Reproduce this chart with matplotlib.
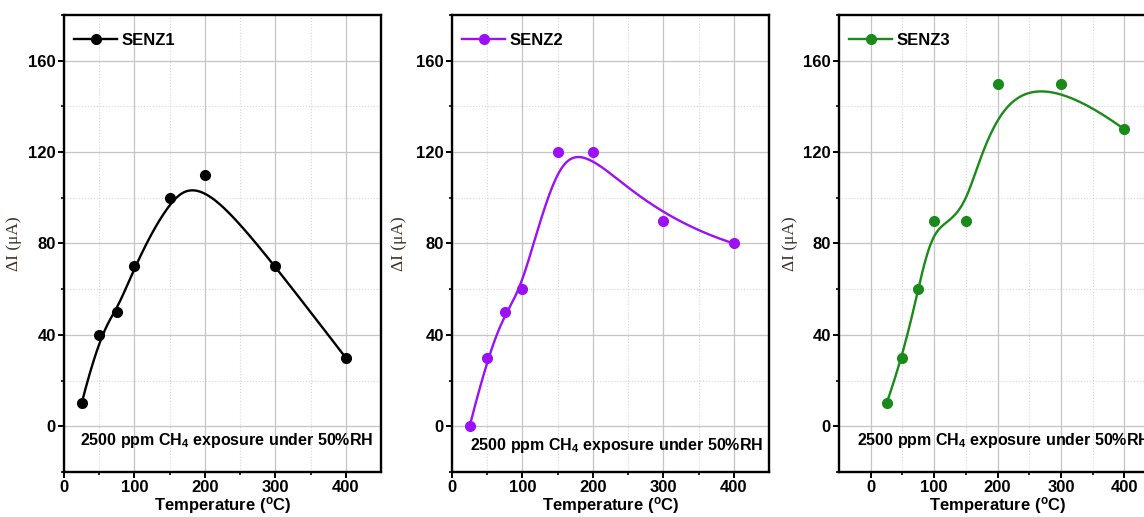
import numpy as np
import matplotlib.pyplot as plt
from matplotlib.lines import Line2D

plt.rcParams["font.family"] = ["Liberation Sans", "DejaVu Sans"]
plt.rcParams["font.weight"] = "bold"
plt.rcParams["mathtext.fontset"] = "custom"
plt.rcParams["mathtext.rm"] = "Liberation Sans:bold"
plt.rcParams["mathtext.it"] = "Liberation Sans:bold"
plt.rcParams["mathtext.bf"] = "Liberation Sans:bold"

temps = [25, 50, 75, 100, 150, 200, 300, 400]
senz1 = [10, 40, 50, 70, 100, 110, 70, 30]
senz2 = [0, 30, 50, 60, 120, 120, 90, 80]
senz3 = [10, 30, 60, 90, 90, 150, 150, 130]
names = ["SENZ1", "SENZ2", "SENZ3"]
colors = ["black", "#9b10f5", "#1a8a1a"]
note = "2500 ppm CH$_4$ exposure under 50%RH"


def bspline(px, py, n=300, k=3):
    # clamped uniform B-spline using the data points as control points
    px = np.asarray(px, float)
    py = np.asarray(py, float)
    m = len(px)
    inner = np.arange(1, m - k)
    knots = np.concatenate([np.zeros(k + 1), inner, np.full(k + 1, m - k)])
    t = np.linspace(0, m - k, n)
    t[-1] -= 1e-9
    B = np.zeros((n, len(knots) - 1))
    for i in range(len(knots) - 1):
        B[:, i] = (t >= knots[i]) & (t < knots[i + 1])
    for d in range(1, k + 1):
        Bn = np.zeros((n, len(knots) - d - 1))
        for i in range(len(knots) - d - 1):
            a = knots[i + d] - knots[i]
            b = knots[i + d + 1] - knots[i + 1]
            left = (t - knots[i]) / a * B[:, i] if a > 0 else 0
            right = (knots[i + d + 1] - t) / b * B[:, i + 1] if b > 0 else 0
            Bn[:, i] = left + right
        B = Bn
    return B @ px, B @ py


fig = plt.figure(figsize=(11.44, 5.17), dpi=100)
W, H = 1144, 517
# left edge px, xlim, note position, ylabel x (axes frac)
panels = [(64, 0, 450, 0.05, 0.07, -0.132),
          (452, 0, 450, 0.057, 0.057, -0.142),
          (839, -50, 450, 0.057, 0.07, -0.13)]

for (left, x0, x1, tx, ty, lx), ys, name, c in zip(panels, [senz1, senz2, senz3], names, colors):
    ax = fig.add_axes([left / W, 1 - 472 / H, 317 / W, 457 / H])
    sx, sy = bspline(temps, ys)
    ax.plot(sx, sy, color=c, lw=1.7, zorder=3)
    ax.plot(temps, ys, "o", color=c, ms=7, zorder=4)
    ax.set_xlim(x0, x1)
    ax.set_ylim(-20, 180)
    ax.set_xticks([0, 100, 200, 300, 400])
    ax.set_xticks(np.arange(50, 450, 100), minor=True)
    ax.set_yticks([0, 40, 80, 120, 160])
    ax.set_yticks([-20, 20, 60, 100, 140, 180], minor=True)
    ax.grid(which="major", color="#c4c4c4", lw=0.9)
    ax.grid(which="minor", color="#d6d6d6", lw=0.8, ls=":")
    ax.set_axisbelow(True)
    for sp in ax.spines.values():
        sp.set_linewidth(1.7)
    ax.tick_params(which="major", direction="out", length=4, width=1.4, labelsize=12, pad=2)
    ax.tick_params(which="minor", direction="out", length=2.5, width=1.2)
    ax.set_xlabel("Temperature ($^{o}$C)", fontsize=12, fontweight="bold", labelpad=0)
    ax.set_ylabel("ΔI (μA)", fontsize=12.5, fontweight="normal", color="#3d2b24",
                  family=["Liberation Serif"])
    ax.yaxis.set_label_coords(lx, 0.5)
    ax.text(tx, ty, note, transform=ax.transAxes, fontsize=11.5, fontweight="bold",
            va="center", ha="left")
    handle = Line2D([], [], color=c, lw=1.7, marker="o", ms=7)
    ax.legend([handle], [name], loc="upper left", bbox_to_anchor=(0.01, 0.975),
              frameon=False, handlelength=2.6, handletextpad=0.25, borderaxespad=0,
              prop={"weight": "bold", "size": 12})

plt.savefig("out.png", dpi=100)
plt.close()
